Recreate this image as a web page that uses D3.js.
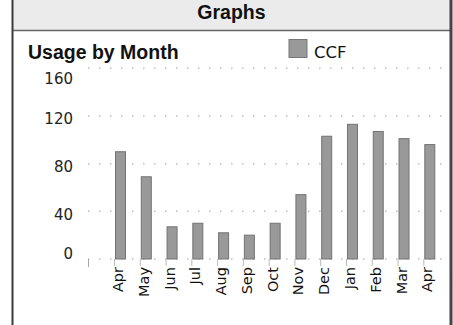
<!DOCTYPE html>
<html>
<head>
<meta charset="utf-8">
<script src="https://cdn.jsdelivr.net/npm/d3@7"></script>
<style>
  html, body { margin: 0; padding: 0; background: #fff; }
  svg { display: block; }
</style>
</head>
<body>
<svg id="chart" width="453" height="325"></svg>
<script>
// Monthly usage, in CCF
const months = ["Apr", "May", "Jun", "Jul", "Aug", "Sep", "Oct", "Nov", "Dec", "Jan", "Feb", "Mar", "Apr"];
const ccf = [90, 69, 27, 30, 22, 20, 30, 54, 103, 113, 107, 101, 96];
const yTicks = [0, 40, 80, 120, 160];
const seriesName = "CCF";

const svg = d3.select("#chart");
const W = 453, H = 325;

// Panel frame and header
svg.append("rect").attr("x", 12).attr("y", 0).attr("width", 438).attr("height", 30)
  .attr("fill", "#ebebeb");
svg.append("line").attr("x1", 12).attr("x2", 450).attr("y1", 30.5).attr("y2", 30.5)
  .attr("stroke", "#666").attr("stroke-width", 1.5);
svg.append("line").attr("x1", 12.5).attr("x2", 12.5).attr("y1", 0).attr("y2", H)
  .attr("stroke", "#3a3a3a").attr("stroke-width", 2);
svg.append("line").attr("x1", 451).attr("x2", 451).attr("y1", 0).attr("y2", H)
  .attr("stroke", "#444").attr("stroke-width", 3);

svg.append("text").attr("x", 231.5).attr("y", 18.5).attr("text-anchor", "middle")
  .attr("font-family", "'Liberation Sans', Arial, sans-serif").attr("font-weight", "bold")
  .attr("font-size", 19.5).attr("fill", "#111").text("Graphs");

svg.append("text").attr("x", 28).attr("y", 59).attr("text-anchor", "start")
  .attr("font-family", "'Liberation Sans', Arial, sans-serif").attr("font-weight", "bold")
  .attr("font-size", 19.5).attr("fill", "#111").text("Usage by Month");

// Legend
svg.append("rect").attr("x", 289).attr("y", 39.5).attr("width", 18).attr("height", 18)
  .attr("fill", "#999").attr("stroke", "#777").attr("stroke-width", 1);
svg.append("text").attr("x", 314).attr("y", 58)
  .attr("font-family", "'DejaVu Sans', sans-serif").attr("font-size", 16.5)
  .attr("fill", "#111").text(seriesName);

// Scales
const plotLeft = 88, plotRight = 449;
const y = d3.scaleLinear().domain([0, 160]).range([259, 68.3]);
const x = d3.scaleBand().domain(d3.range(months.length))
  .range([115, 435.3]).paddingInner(0.573).paddingOuter(0);

// Dotted gridlines
svg.append("g").selectAll("line").data(yTicks).join("line")
  .attr("x1", plotLeft).attr("x2", plotRight)
  .attr("y1", d => y(d)).attr("y2", d => y(d))
  .attr("stroke", "#bdbdbd").attr("stroke-width", 1.5)
  .attr("stroke-dasharray", "1.5,9.5");

// Y labels, kept inside the plot area
const yTop = y(160) + 10.7, yBottom = y(0) - 5;
svg.append("g").selectAll("text").data(yTicks).join("text")
  .attr("x", 73).attr("y", d => Math.min(Math.max(y(d) + 3, yTop), yBottom))
  .attr("dy", "0.35em").attr("text-anchor", "end")
  .attr("font-family", "'DejaVu Sans', sans-serif").attr("font-size", 15)
  .attr("fill", "#222").text(d => d);

// X ticks
svg.append("line").attr("x1", plotLeft + 0.5).attr("x2", plotLeft + 0.5)
  .attr("y1", y(0)).attr("y2", y(0) + 8).attr("stroke", "#aaa").attr("stroke-width", 1);
svg.append("g").selectAll("line").data(months).join("line")
  .attr("x1", (d, i) => x(i) - 0.5).attr("x2", (d, i) => x(i) - 0.5)
  .attr("y1", y(0)).attr("y2", y(0) + 7)
  .attr("stroke", "#bbb").attr("stroke-width", 1);

// Bars
svg.append("g").selectAll("rect").data(ccf).join("rect")
  .attr("x", (d, i) => x(i) + 0.5)
  .attr("y", d => y(d))
  .attr("width", x.bandwidth() - 1)
  .attr("height", d => y(0) - y(d))
  .attr("fill", "#999").attr("stroke", "#737373").attr("stroke-width", 1);

// Month labels, rotated
svg.append("g").selectAll("text").data(months).join("text")
  .attr("transform", (d, i) => `translate(${x(i) + 8},${y(0) + 8}) rotate(-90)`)
  .attr("text-anchor", "end")
  .attr("font-family", "'DejaVu Sans', sans-serif").attr("font-size", 14.5)
  .attr("fill", "#111").text(d => d);
</script>
</body>
</html>
